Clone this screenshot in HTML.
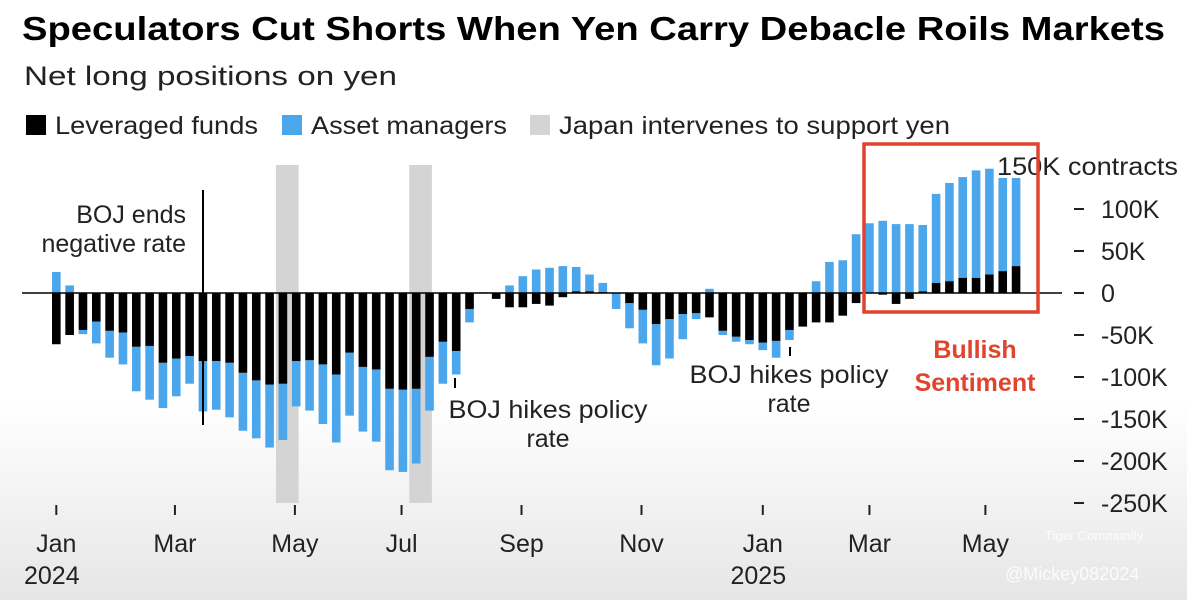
<!DOCTYPE html>
<html><head><meta charset="utf-8"><style>
html,body{margin:0;padding:0}
body{width:1187px;height:600px;overflow:hidden;background:linear-gradient(#fff 0,#fff 400px,#e6e6e6 600px);font-family:"Liberation Sans",Arial,sans-serif;position:relative}
</style></head><body>
<svg width="1187" height="600" style="position:absolute;left:0;top:0">
<text x="22" y="40" font-size="33" font-weight="bold" fill="#000" textLength="1143" lengthAdjust="spacingAndGlyphs">Speculators Cut Shorts When Yen Carry Debacle Roils Markets</text>
<text x="24" y="85" font-size="27" fill="#222" textLength="373" lengthAdjust="spacingAndGlyphs">Net long positions on yen</text>
<g font-size="25" fill="#222">
<rect x="26" y="115" width="20" height="20" fill="#000"/>
<text x="55" y="134" textLength="203" lengthAdjust="spacingAndGlyphs">Leveraged funds</text>
<rect x="282" y="115" width="20" height="20" fill="#4ba6ec"/>
<text x="311" y="134" textLength="196" lengthAdjust="spacingAndGlyphs">Asset managers</text>
<rect x="530" y="115" width="20" height="20" fill="#d4d4d4"/>
<text x="559" y="134" textLength="391" lengthAdjust="spacingAndGlyphs">Japan intervenes to support yen</text>
</g>
<g id="bands"></g>
<g id="bars"></g>
<g id="axis"></g>
<line x1="203" y1="190" x2="203" y2="425" stroke="#000" stroke-width="2"/>
<text x="186" y="223" font-size="25" text-anchor="end" fill="#222">BOJ ends</text>
<text x="186" y="252" font-size="25" text-anchor="end" fill="#222">negative rate</text>
<line x1="455" y1="378" x2="455" y2="388" stroke="#000" stroke-width="2"/>
<text x="548" y="418" font-size="25" text-anchor="middle" fill="#222" textLength="199" lengthAdjust="spacingAndGlyphs">BOJ hikes policy</text>
<text x="548" y="447" font-size="25" text-anchor="middle" fill="#222">rate</text>
<line x1="790" y1="347" x2="790" y2="356" stroke="#000" stroke-width="2"/>
<text x="789" y="383" font-size="25" text-anchor="middle" fill="#222" textLength="199" lengthAdjust="spacingAndGlyphs">BOJ hikes policy</text>
<text x="789" y="412" font-size="25" text-anchor="middle" fill="#222">rate</text>
<text x="1178" y="175" font-size="25" text-anchor="end" fill="#222" textLength="181" lengthAdjust="spacingAndGlyphs">150K contracts</text>
<rect x="864" y="144" width="174" height="168" fill="none" stroke="#e0442c" stroke-width="3.5"/>
<text x="975" y="358" font-size="25" font-weight="bold" text-anchor="middle" fill="#e0442c">Bullish</text>
<text x="975" y="391" font-size="25" font-weight="bold" text-anchor="middle" fill="#e0442c">Sentiment</text>
<text x="1005" y="580" font-size="18" fill="#fff" opacity="0.85">@Mickey082024</text>
<text x="1045" y="540" font-size="13" fill="#fff" opacity="0.85">Tiger Community</text>
</svg>
<script>
const lev=[-61,-50,-44,-34,-45,-47,-64,-63,-83,-78,-75,-81,-81,-83,-95,-104,-109,-108,-81,-80,-85,-97,-71,-88,-91,-114,-115,-114,-76,-58,-69,-19,0,-7,-17,-17,-13,-15,-5,2,2,1,0,-12,-20,-37,-31,-25,-24,-29,-45,-52,-56,-59,-57,-44,-40,-35,-35,-27,-12,0,-2,-13,-7,2,12,14,18,18,22,26,32];
const am=[25,9,-5,-26,-32,-38,-53,-64,-54,-45,-33,-60,-58,-65,-69,-69,-75,-67,-54,-60,-71,-81,-75,-77,-86,-97,-98,-89,-64,-50,-28,-16,1,0,9,20,28,30,32,29,20,11,-19,-30,-40,-49,-47,-30,-7,5,-5,-6,-5,-9,-20,-12,0,14,37,39,70,83,86,82,82,79,106,117,120,128,126,111,105];
const yTicks=[100,50,0,-50,-100,-150,-200,-250];
const yTickLabels=["100K","50K","0","-50K","-100K","-150K","-200K","-250K"];
const months=["Jan","Mar","May","Jul","Sep","Nov","Jan","Mar","May"];
const monthWeeks=[0,8.9,17.9,25.9,34.9,43.9,53,61,69.7];
const years=["2024","2025"];
const yearWeeks=[-2.1,50.9];
const bands=[[16.8,18.5],[26.8,28.5]];
const NS="http://www.w3.org/2000/svg";
const x=i=>52+i*13.33, y=v=>293-v*0.84, BW=8.6;
function mk(t,a,p){const e=document.createElementNS(NS,t);for(const k in a)e.setAttribute(k,a[k]);document.getElementById(p).appendChild(e);return e;}
bands.forEach((b,i)=>{const e=mk('rect',{x:x(b[0]),y:165,width:x(b[1])-x(b[0]),height:y(-250)-165,fill:'#d4d4d4'},'bands');

});
lev.forEach((l,i)=>{
 const a=am[i];
 let b0=(a*l>0)?l:0, b1=b0+a;
 const eb=mk('rect',{x:x(i),y:Math.min(y(b0),y(b1)),width:BW,height:Math.abs(y(b1)-y(b0)),fill:'#4ba6ec'},'bars');
 
 
 const el=mk('rect',{x:x(i),y:Math.min(y(0),y(l)),width:BW,height:Math.abs(y(l)-y(0)),fill:'#000'},'bars');
 
 
});
const z=mk('line',{x1:22,x2:1062,y1:y(0),y2:y(0),stroke:'#000','stroke-width':1.5},'axis');


yTicks.forEach((v,i)=>{
 const t=mk('line',{x1:1074,x2:1084,y1:y(v),y2:y(v),stroke:'#222','stroke-width':2},'axis');
 
 
 const tx=mk('text',{x:1101,y:y(v)+9,'font-size':25,fill:'#222'},'axis');tx.textContent=yTickLabels[i];
 
 
});
months.forEach((m,i)=>{
 const xx=x(monthWeeks[i])+BW/2;
 const t=mk('line',{x1:xx,x2:xx,y1:505,y2:515,stroke:'#222','stroke-width':2},'axis');
 
 
 const tx=mk('text',{x:xx,y:552,'font-size':25,fill:'#222','text-anchor':'middle'},'axis');tx.textContent=m;
 
 
});
years.forEach((yr,i)=>{
 const tx=mk('text',{x:x(yearWeeks[i]),y:584,'font-size':25,fill:'#222'},'axis');tx.textContent=yr;
 
 
});
</script>
</body></html>
